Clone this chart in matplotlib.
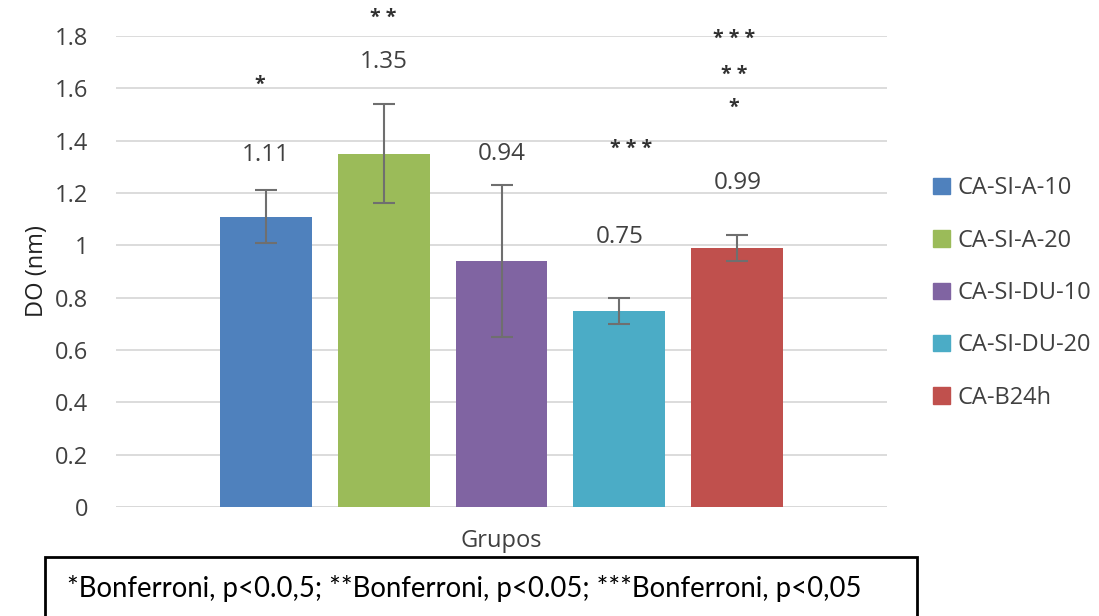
import matplotlib
matplotlib.use("Agg")
import matplotlib.pyplot as plt
from matplotlib.patches import Rectangle

groups = ["CA-SI-A-10", "CA-SI-A-20", "CA-SI-DU-10", "CA-SI-DU-20", "CA-B24h"]
values = [1.11, 1.35, 0.94, 0.75, 0.99]
errors = [0.10, 0.19, 0.29, 0.05, 0.05]
colors = ["#4F81BD", "#9BBB59", "#8064A2", "#4BACC6", "#C0504D"]
value_labels = ["1.11", "1.35", "0.94", "0.75", "0.99"]
label_y = [1.345, 1.70, 1.35, 1.03, 1.24]
# significance marks: (group index, text, y)
sig_groups = [0, 1, 3, 4, 4, 4]
sig_texts = ["*", "**", "***", "***", "**", "*"]
sig_y = [1.615, 1.87, 1.37, 1.79, 1.65, 1.525]
sig_dx = [-0.05, 0.0, 0.10, -0.03, -0.03, -0.03]
yticks = [0, 0.2, 0.4, 0.6, 0.8, 1, 1.2, 1.4, 1.6, 1.8]
ytick_labels = ["0", "0.2", "0.4", "0.6", "0.8", "1", "1.2", "1.4", "1.6", "1.8"]
footnote = "*Bonferroni, p<0.0,5; **Bonferroni, p<0.05; ***Bonferroni, p<0,05"

plt.rcParams['font.family'] = ['Open Sans', 'DejaVu Sans']

fig = plt.figure(figsize=(10.99, 6.16), dpi=100)
ax = fig.add_axes([116/1099, 1-507/616, (887-116)/1099, (507-36)/616])

x = list(range(len(groups)))
ax.bar(x, values, width=0.78, color=colors, zorder=2)
ax.errorbar(x, values, yerr=errors, fmt="none", ecolor="#6f6f6f", elinewidth=1.5,
            capsize=8, capthick=1.5, zorder=3)

for xi, lab, ly in zip(x, value_labels, label_y):
    ax.text(xi, ly, lab, ha="center", va="center", fontsize=17.5, color="#404040", zorder=4)

for gi, t, sy, dx in zip(sig_groups, sig_texts, sig_y, sig_dx):
    ax.text(gi + dx, sy, " ".join(t), ha="center", va="center", fontsize=14,
            color="#303030", clip_on=False, fontweight="bold")

ax.set_xlim(-1.27, 5.27)
ax.set_ylim(0, 1.8)
ax.set_yticks(yticks)
ax.set_yticklabels(ytick_labels, fontsize=17, color="#404040")
ax.set_xticks([])
ax.tick_params(axis="y", length=0, pad=20)
ax.yaxis.grid(True, color="#d9d9d9", linewidth=1.3, zorder=0)
ax.set_axisbelow(True)
for s in ax.spines.values():
    s.set_visible(False)
ax.axhline(0, color="#d9d9d9", linewidth=1.3, zorder=1)

ax.set_ylabel("DO (nm)", fontsize=17, color="#222222", labelpad=4)
ax.set_xlabel("Grupos", fontsize=17, color="#404040", labelpad=16)

handles = [Rectangle((0, 0), 1, 1, color=c) for c in colors]
fig.legend(handles, groups, loc="upper left", bbox_to_anchor=(924/1099, 1-167/616),
           frameon=False, fontsize=17, handlelength=0.7, handleheight=0.7,
           handletextpad=0.3, labelspacing=1.2, borderaxespad=0,
           labelcolor="#404040")

fig.patches.append(Rectangle((45/1099, -0.05), (917-45)/1099, 0.05+1-557/616,
                             transform=fig.transFigure, fill=False, edgecolor="black",
                             linewidth=2))
fig.text(67/1099, 1-588/616, footnote, fontsize=19.8, family=["Lato", "DejaVu Sans"],
         ha="left", va="center", color="black")

fig.savefig("out.png", dpi=100)
